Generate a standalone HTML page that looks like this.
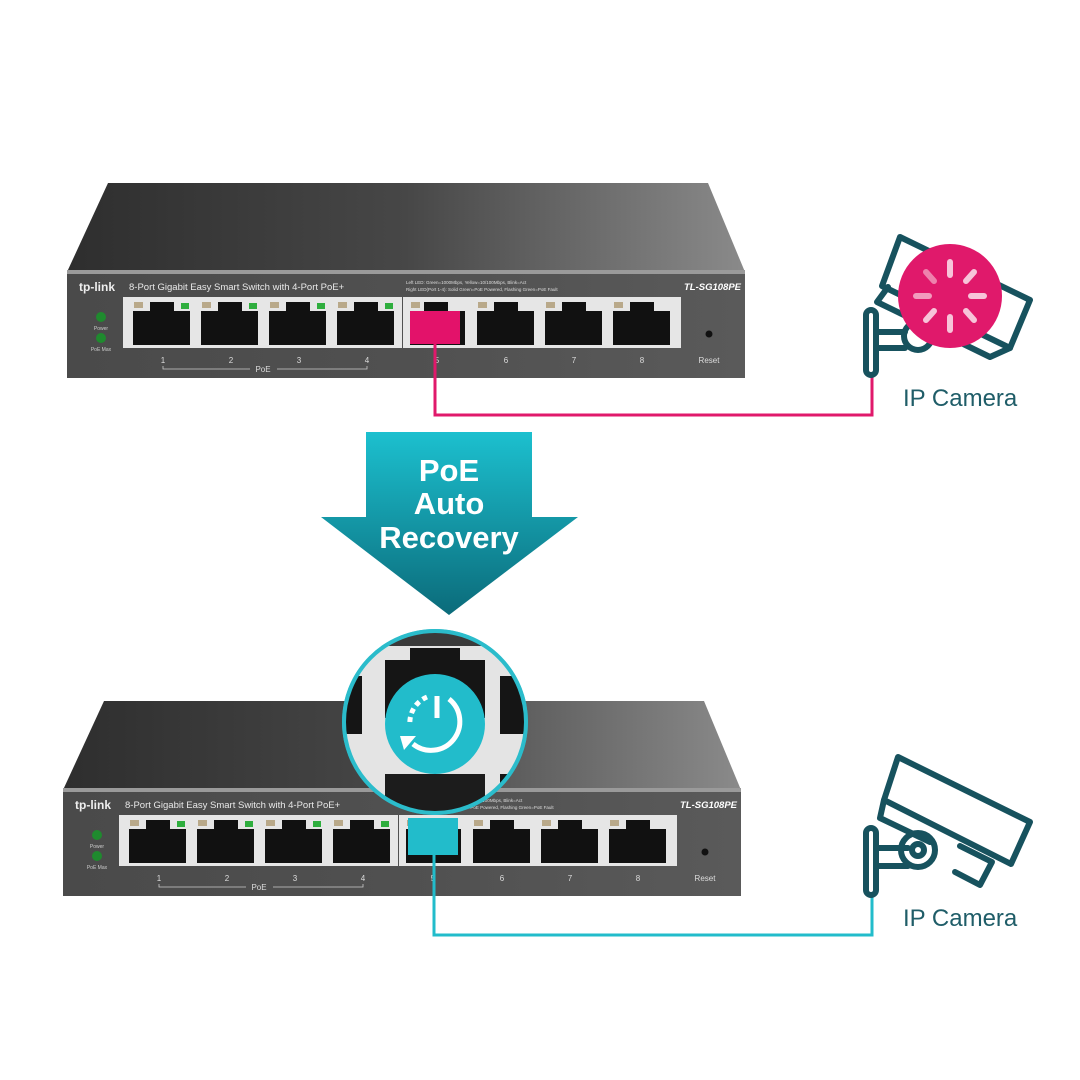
<!DOCTYPE html>
<html><head><meta charset="utf-8"><style>
html,body{margin:0;padding:0;background:#fff;}
svg{display:block;}
</style></head><body>
<svg width="1080" height="1080" viewBox="0 0 1080 1080" xmlns="http://www.w3.org/2000/svg" font-family="Liberation Sans, sans-serif">
<defs>
<linearGradient id="topg" x1="0" y1="0" x2="1" y2="0">
<stop offset="0" stop-color="#2e2e2e"/><stop offset="0.5" stop-color="#474747"/><stop offset="1" stop-color="#8a8a8a"/>
</linearGradient>
<linearGradient id="frontg" x1="0" y1="0" x2="1" y2="0">
<stop offset="0" stop-color="#4a4a4a"/><stop offset="0.5" stop-color="#505050"/><stop offset="1" stop-color="#5a5a5a"/>
</linearGradient>
<linearGradient id="arrg" x1="0" y1="0" x2="0" y2="1">
<stop offset="0" stop-color="#1cc0cf"/><stop offset="1" stop-color="#0b6b7a"/>
</linearGradient>
<clipPath id="mag"><circle cx="435" cy="722" r="91"/></clipPath>
</defs>

<!-- TOP SWITCH -->
<g id="sw1">
<polygon points="108,183 708,183 745,272 67,272" fill="url(#topg)"/>
<rect x="67" y="270" width="678" height="4" fill="#9a9a9a"/>
<rect x="67" y="274" width="678" height="104" fill="url(#frontg)"/>
<text x="79" y="291" font-size="12" fill="#eee" font-weight="bold">tp-link</text>
<text x="129" y="290" font-size="9.5" fill="#e8e8e8">8-Port Gigabit Easy Smart Switch with 4-Port PoE+</text>
<text x="406" y="284" font-size="4.5" fill="#ddd">Left LED: Green=1000Mbps, Yellow=10/100Mbps, Blink=Act</text>
<text x="406" y="291" font-size="4.5" fill="#ddd">Right LED(Port 1-4): Solid Green=PoE Powered, Flashing Green=PoE Fault</text>
<text x="741" y="290" font-size="9.5" fill="#fff" font-weight="bold" font-style="italic" text-anchor="end">TL-SG108PE</text>
<circle cx="101" cy="317" r="5" fill="#1f8a2e"/><circle cx="101" cy="338" r="5" fill="#1f8a2e"/>
<text x="101" y="330" font-size="5" fill="#ccc" text-anchor="middle">Power</text>
<text x="101" y="351" font-size="5" fill="#ccc" text-anchor="middle">PoE Max</text>
<rect x="123" y="297" width="279" height="51" fill="#e6e6e6"/>
<rect x="403" y="297" width="278" height="51" fill="#e6e6e6"/>
<g fill="#111">
<rect x="133" y="311" width="57" height="34"/><rect x="150" y="302" width="24" height="10"/>
<rect x="201" y="311" width="57" height="34"/><rect x="218" y="302" width="24" height="10"/>
<rect x="269" y="311" width="57" height="34"/><rect x="286" y="302" width="24" height="10"/>
<rect x="337" y="311" width="57" height="34"/><rect x="354" y="302" width="24" height="10"/>
<rect x="410" y="311" width="55" height="34"/><rect x="424" y="302" width="24" height="10"/>
<rect x="477" y="311" width="57" height="34"/><rect x="494" y="302" width="24" height="10"/>
<rect x="545" y="311" width="57" height="34"/><rect x="562" y="302" width="24" height="10"/>
<rect x="613" y="311" width="57" height="34"/><rect x="630" y="302" width="24" height="10"/>
</g>
<g fill="#b9a98a">
<rect x="134" y="302" width="9" height="6"/><rect x="202" y="302" width="9" height="6"/><rect x="270" y="302" width="9" height="6"/><rect x="338" y="302" width="9" height="6"/>
<rect x="411" y="302" width="9" height="6"/><rect x="478" y="302" width="9" height="6"/><rect x="546" y="302" width="9" height="6"/><rect x="614" y="302" width="9" height="6"/>
</g>
<g fill="#2fae3e">
<rect x="181" y="303" width="8" height="6"/><rect x="249" y="303" width="8" height="6"/><rect x="317" y="303" width="8" height="6"/><rect x="385" y="303" width="8" height="6"/>
</g>
<circle cx="709" cy="334" r="3.5" fill="#111"/>
<g font-size="8" fill="#ddd" text-anchor="middle">
<text x="163" y="363">1</text><text x="231" y="363">2</text><text x="299" y="363">3</text><text x="367" y="363">4</text>
<text x="437" y="363">5</text><text x="506" y="363">6</text><text x="574" y="363">7</text><text x="642" y="363">8</text>
<text x="709" y="363">Reset</text><text x="263" y="372">PoE</text>
</g>
<path d="M163,366 V369 H250 M277,369 H367 V366" stroke="#ccc" stroke-width="0.8" fill="none"/>
</g>
<rect x="410" y="311" width="50" height="33" fill="#e3126a"/>
<polyline points="435,344 435,415 872,415 872,375" fill="none" stroke="#e0196b" stroke-width="3"/>

<!-- BOTTOM SWITCH -->
<g transform="translate(-4,518)">
<polygon points="108,183 708,183 745,272 67,272" fill="url(#topg)"/>
<rect x="67" y="270" width="678" height="4" fill="#9a9a9a"/>
<rect x="67" y="274" width="678" height="104" fill="url(#frontg)"/>
<text x="79" y="291" font-size="12" fill="#eee" font-weight="bold">tp-link</text>
<text x="129" y="290" font-size="9.5" fill="#e8e8e8">8-Port Gigabit Easy Smart Switch with 4-Port PoE+</text>
<text x="406" y="284" font-size="4.5" fill="#ddd">Left LED: Green=1000Mbps, Yellow=10/100Mbps, Blink=Act</text>
<text x="406" y="291" font-size="4.5" fill="#ddd">Right LED(Port 1-4): Solid Green=PoE Powered, Flashing Green=PoE Fault</text>
<text x="741" y="290" font-size="9.5" fill="#fff" font-weight="bold" font-style="italic" text-anchor="end">TL-SG108PE</text>
<circle cx="101" cy="317" r="5" fill="#1f8a2e"/><circle cx="101" cy="338" r="5" fill="#1f8a2e"/>
<text x="101" y="330" font-size="5" fill="#ccc" text-anchor="middle">Power</text>
<text x="101" y="351" font-size="5" fill="#ccc" text-anchor="middle">PoE Max</text>
<rect x="123" y="297" width="279" height="51" fill="#e6e6e6"/>
<rect x="403" y="297" width="278" height="51" fill="#e6e6e6"/>
<g fill="#111">
<rect x="133" y="311" width="57" height="34"/><rect x="150" y="302" width="24" height="10"/>
<rect x="201" y="311" width="57" height="34"/><rect x="218" y="302" width="24" height="10"/>
<rect x="269" y="311" width="57" height="34"/><rect x="286" y="302" width="24" height="10"/>
<rect x="337" y="311" width="57" height="34"/><rect x="354" y="302" width="24" height="10"/>
<rect x="410" y="311" width="55" height="34"/><rect x="424" y="302" width="24" height="10"/>
<rect x="477" y="311" width="57" height="34"/><rect x="494" y="302" width="24" height="10"/>
<rect x="545" y="311" width="57" height="34"/><rect x="562" y="302" width="24" height="10"/>
<rect x="613" y="311" width="57" height="34"/><rect x="630" y="302" width="24" height="10"/>
</g>
<g fill="#b9a98a">
<rect x="134" y="302" width="9" height="6"/><rect x="202" y="302" width="9" height="6"/><rect x="270" y="302" width="9" height="6"/><rect x="338" y="302" width="9" height="6"/>
<rect x="411" y="302" width="9" height="6"/><rect x="478" y="302" width="9" height="6"/><rect x="546" y="302" width="9" height="6"/><rect x="614" y="302" width="9" height="6"/>
</g>
<g fill="#2fae3e">
<rect x="181" y="303" width="8" height="6"/><rect x="249" y="303" width="8" height="6"/><rect x="317" y="303" width="8" height="6"/><rect x="385" y="303" width="8" height="6"/>
</g>
<circle cx="709" cy="334" r="3.5" fill="#111"/>
<g font-size="8" fill="#ddd" text-anchor="middle">
<text x="163" y="363">1</text><text x="231" y="363">2</text><text x="299" y="363">3</text><text x="367" y="363">4</text>
<text x="437" y="363">5</text><text x="506" y="363">6</text><text x="574" y="363">7</text><text x="642" y="363">8</text>
<text x="709" y="363">Reset</text><text x="263" y="372">PoE</text>
</g>
<path d="M163,366 V369 H250 M277,369 H367 V366" stroke="#ccc" stroke-width="0.8" fill="none"/>
</g>

<!-- Magnifier -->
<circle cx="435" cy="722" r="93" fill="#2bbccb"/>
<g clip-path="url(#mag)">
<rect x="340" y="628" width="190" height="190" fill="#e4e4e4"/>
<rect x="340" y="628" width="190" height="18" fill="#3a3a3a"/>
<rect x="385" y="660" width="100" height="58" fill="#151515"/>
<rect x="410" y="648" width="50" height="16" fill="#151515"/>
<rect x="340" y="676" width="22" height="58" fill="#151515"/>
<rect x="500" y="676" width="30" height="58" fill="#151515"/>
<rect x="385" y="774" width="100" height="50" fill="#1c1c1c"/>
<rect x="340" y="774" width="22" height="50" fill="#151515"/>
<rect x="500" y="774" width="30" height="50" fill="#151515"/>
</g>
<circle cx="435" cy="722" r="91" fill="none" stroke="#2bbccb" stroke-width="4"/>
<circle cx="435" cy="724" r="50" fill="#22bccb"/>
<g stroke="#fff" stroke-width="5" fill="none" stroke-linecap="butt">
<line x1="437" y1="696" x2="437" y2="718"/>
<path d="M449,699 A28,28 0 1 1 413,744"/>
<path d="M427,697 A28,28 0 0 0 410,726" stroke-dasharray="5,4"/>
</g>
<polygon points="400,736 416,736 404,750" fill="#fff"/>
<rect x="408" y="818" width="50" height="37" fill="#22bccb"/>
<polyline points="434,855 434,935 872,935 872,895" fill="none" stroke="#22bccb" stroke-width="3"/>

<!-- Arrow -->
<polygon points="366,432 532,432 532,517 578,517 449,615 321,517 366,517" fill="url(#arrg)"/>
<g fill="#fff" font-weight="bold" font-size="31" text-anchor="middle">
<text x="449" y="481">PoE</text><text x="449" y="514">Auto</text><text x="449" y="548">Recovery</text>
</g>

<!-- Camera top -->
<g stroke="#17525e" stroke-width="6" fill="none" stroke-linejoin="round" stroke-linecap="round">
<rect x="866" y="310" width="10" height="65" rx="5"/>
<path d="M876,332 H905 M876,348 H905"/>
<path d="M900,237 L1030,300 L1010,348 L882,286 Z"/>
<path d="M888,287 L877,302 L990,357 L1010,348"/>
<circle cx="918" cy="336" r="14"/>
</g>
<circle cx="950" cy="296" r="52" fill="#e0196b"/>
<g stroke-width="6" stroke-linecap="round">
<line x1="950" y1="262" x2="950" y2="275" stroke="#f7c4d9"/>
<line x1="974" y1="272" x2="966" y2="281" stroke="#f7c4d9"/>
<line x1="984" y1="296" x2="971" y2="296" stroke="#f7c4d9"/>
<line x1="974" y1="320" x2="966" y2="311" stroke="#f7c4d9"/>
<line x1="950" y1="330" x2="950" y2="317" stroke="#f7c4d9"/>
<line x1="926" y1="320" x2="934" y2="311" stroke="#f7c4d9"/>
<line x1="916" y1="296" x2="929" y2="296" stroke="#f29bbd"/>
<line x1="926" y1="272" x2="934" y2="281" stroke="#ee82ad"/>
</g>
<text x="903" y="406" font-size="24" fill="#1f5d68">IP Camera</text>

<!-- Camera bottom -->
<g stroke="#17525e" stroke-width="6" fill="none" stroke-linejoin="round" stroke-linecap="round">
<rect x="866" y="828" width="10" height="67" rx="5"/>
<path d="M876,848 H908 M876,866 H908"/>
<path d="M898,757 L1030,822 L1011,864 L884,800 Z"/>
<path d="M884,800 L880,818 L930,842"/>
<path d="M960,846 L992,862 L980,885 L955,872"/>
<circle cx="918" cy="850" r="17"/>
<circle cx="918" cy="850" r="6"/>
</g>
<text x="903" y="926" font-size="24" fill="#1f5d68">IP Camera</text>
</svg>
</body></html>
